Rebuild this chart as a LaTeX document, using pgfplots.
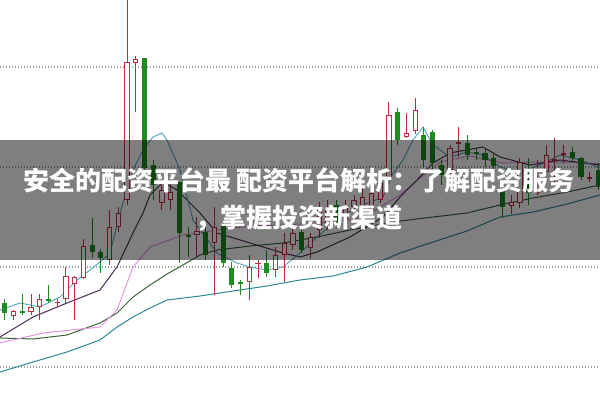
\documentclass[border=0pt]{standalone}
\usepackage{pgfplots}
\pgfplotsset{compat=1.18}
\usepackage{pgfplotstable}
\usepackage{fontspec}
\newfontfamily\cjk{Noto Sans CJK SC}
\definecolor{cred}{RGB}{192,45,65}
\definecolor{cgreen}{RGB}{30,140,30}
\definecolor{maA}{RGB}{95,170,190}
\definecolor{maB}{RGB}{75,45,85}
\definecolor{maC}{RGB}{225,150,225}
\definecolor{maD}{RGB}{55,100,55}
\definecolor{maE}{RGB}{45,135,150}
\pgfplotstableread{
x hi top bot lo
13.5 310 311 316 320
31.0 294 307 312 315
39.7 294 299 307 320
57.2 299 301.5 303 307
65.9 267 276 299 303
74.6 276 277 284 320
83.4 239 246 278 279
109.6 210 227 260 265
118.3 207 213 227 232
127.0 0 62 200 205
135.8 56 59 63 112
161.9 183 190 203 210
170.7 180 192 200 210
196.9 217 231 235 256
214.3 207 227 243 295
249.2 255 267 282 300
258.0 260 262.5 264 278
275.4 247 255 270 277
284.2 233 243 255 282
292.9 227 233 245 250
310.4 233 237 248 258
319.1 202 207 230 238
327.8 200 207 223 230
345.3 200 207 220 225
354.0 195 200 207 213
362.7 187 197 207 213
371.5 188 193 210 215
380.2 177 183 200 203
388.9 102 115 177 180
406.4 113 133 137 138
415.1 98 110 131 134
450.0 145 148 170 180
458.8 127 142 144 157
511.1 195 202 206 214
519.9 158 162 203 208
537.3 160 189 193 195
546.1 145 155 172 173
554.8 138 159 161 182
563.5 145 153 155 163
589.7 172 177 179 182
}\redt
\pgfplotstableread{
x hi top bot lo
4.8 299 303 313 320
22.3 294 311 313 315
48.5 285 299 301 303
92.1 218 245 252 258
100.8 249 252 258 273
144.5 58 58 168 170
153.2 160 165 185 200
179.4 182 182 233 263
188.1 227 235 237 257
205.6 222 232 255 260
223.1 220 225 263 267
231.8 262 268 285 288
240.5 280 282 284 295
266.7 250 263 273 277
301.6 228 232 250 253
336.5 200 205 223 228
397.7 108 112 140 145
423.8 127 135 160 167
432.6 130 132 163 170
441.3 160 165 175 185
467.5 135 143 155 160
476.2 148 152 154 160
485.0 148 153 160 167
493.7 153 158 166 172
502.4 183 190 207 218
528.6 158 173 193 205
572.2 147 152 158 162
581.0 157 158 177 180
598.4 163 170 187 190
}\greent
\begin{document}
\begin{tikzpicture}
\begin{axis}[
  width=450pt, height=300.75pt, scale only axis,
  xmin=0, xmax=600, ymin=0, ymax=401, y dir=reverse,
  axis line style={draw=none},
  xtick=\empty, ytick={67,167,267,367}, yticklabels={},
  major tick length=0pt,
  ymajorgrids,
  grid style={line width=0.9pt, dash pattern=on 0.9pt off 1.35pt, color=black!38},
  clip=true,
  candle/.style={draw=none, no markers, forget plot, error bars/.cd, y dir=both, y explicit, error mark=none, error bar style={#1}},
]
% moving averages
\addplot[no marks, line width=0.75pt, color=maE] coordinates {(0,372) (33,362) (67,352) (100,340) (117,327) (133,317) (150,308) (167,300) (200,296) (233,291) (267,286) (300,280) (333,276) (367,267) (400,253) (433,242) (467,231) (500,217) (533,212) (567,204) (600,195)};
\addplot[no marks, line width=0.75pt, color=maD] coordinates {(0,338) (33,339) (67,335) (100,323) (117,313) (133,297) (150,285) (167,274) (183,265) (200,255) (217,250) (250,246) (283,243) (317,237) (350,230) (383,224) (400,221) (433,217) (467,213) (500,205) (533,198) (567,192) (600,185)};
\addplot[no marks, line width=0.75pt, color=maC] coordinates {(0,343) (43,333) (100,327) (117,310) (133,267) (150,247) (183,235) (217,230) (250,226) (283,225) (317,223) (350,220) (367,215) (400,195) (420,178) (440,162) (470,156) (503,163) (533,162) (567,162) (600,164)};
\addplot[no marks, line width=0.75pt, color=maB] coordinates {(0,337) (33,317) (67,303) (100,290) (117,267) (133,233) (143,213) (150,195) (163,182) (177,190) (190,203) (200,213) (217,233) (250,243) (283,253) (300,257) (317,252) (350,237) (383,217) (400,197) (417,180) (433,163) (450,153) (483,147) (500,157) (530,165) (560,160) (600,165)};
\addplot[no marks, line width=0.75pt, color=maA] coordinates {(0,310) (20,303) (40,307) (60,297) (77,280) (90,270) (100,262) (110,253) (120,213) (133,170) (143,150) (153,137) (162,133) (167,140) (180,170) (193,220) (217,253) (237,263) (250,267) (267,270) (283,267) (300,253) (317,237) (337,220) (357,207) (383,197) (392,175) (403,160) (413,140) (423,127) (433,145) (450,157) (467,152) (483,155) (500,167) (520,172) (540,165) (560,155) (580,160) (600,168)};
% red candles: wick, body, hollow inside
\addplot[candle={line width=0.75pt, draw=cred}]
  table[x=x, y expr={(\thisrow{hi}+\thisrow{lo})/2}, y error expr={(\thisrow{lo}-\thisrow{hi})/2}] {\redt};
\addplot[candle={line width=3.9pt, draw=cred}]
  table[x=x, y expr={(\thisrow{top}+\thisrow{bot})/2}, y error expr={max((\thisrow{bot}-\thisrow{top})/2,0.6)}] {\redt};
\addplot[candle={line width=2.4pt, draw=white}]
  table[x=x, y expr={(\thisrow{top}+\thisrow{bot})/2}, y error expr={max((\thisrow{bot}-\thisrow{top})/2-1,0)}] {\redt};
% green candles
\addplot[candle={line width=0.75pt, draw=cgreen}]
  table[x=x, y expr={(\thisrow{hi}+\thisrow{lo})/2}, y error expr={(\thisrow{lo}-\thisrow{hi})/2}] {\greent};
\addplot[candle={line width=3.9pt, draw=cgreen}]
  table[x=x, y expr={(\thisrow{top}+\thisrow{bot})/2}, y error expr={max((\thisrow{bot}-\thisrow{top})/2,0.6)}] {\greent};
% banner
\fill[black, opacity=0.5] (axis cs:0,140) rectangle (axis cs:600,260);
\node[text=white, align=center, font=\cjk\bfseries\fontsize{19.5}{27.75}\selectfont]
  at (axis cs:299,200) {安全的配资平台最 配资平台解析：了解配资服务\\，掌握投资新渠道};
\end{axis}
\pgfresetboundingbox
\path (current axis.south west) rectangle (current axis.north east);
\end{tikzpicture}
\end{document}
